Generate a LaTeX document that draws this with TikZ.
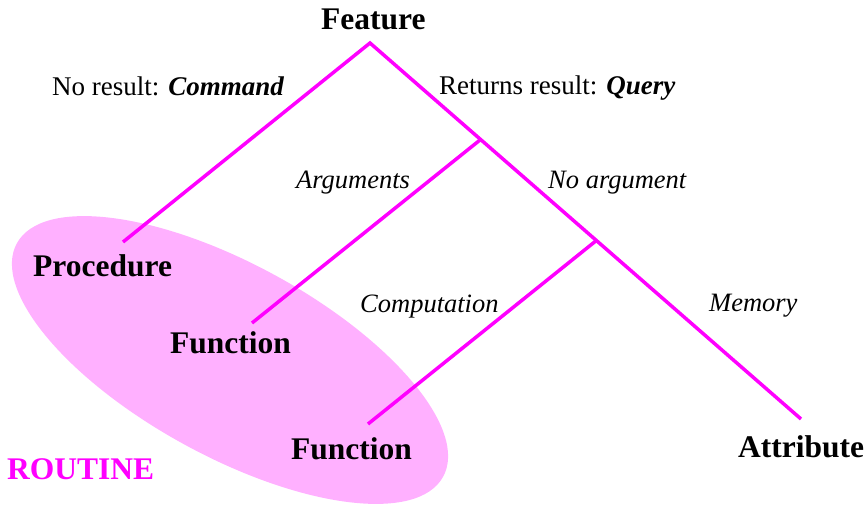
\documentclass[tikz,border=0pt]{standalone}
\usepackage{fontspec}
\setmainfont{Liberation Serif}
\definecolor{linemag}{RGB}{255,0,255}
\definecolor{ellfill}{RGB}{255,176,255}
\tikzset{
  branch/.style={draw=linemag, line width=3.5pt},
  term/.style={inner sep=0pt, anchor=base west, font=\fontsize{31.5}{34}\selectfont\bfseries},
  lbl/.style={inner sep=0pt, anchor=base west, font=\fontsize{27}{30}\selectfont},
  ilbl/.style={inner sep=0pt, anchor=base west, font=\fontsize{26.5}{30}\selectfont\itshape},
}
\begin{document}
\begin{tikzpicture}[x=1pt,y=-1pt]
\useasboundingbox (0,0) rectangle (868,504);
% routine ellipse
\fill[ellfill, rotate around={-28.7:(230,360)}] (230,360) ellipse [x radius=243, y radius=96];
% tree points
\coordinate (top) at (370,43);
\coordinate (b1) at (480,140);
\coordinate (b2) at (597,240);
\coordinate (procEnd) at (123,242);
\coordinate (fun1End) at (252,323);
\coordinate (fun2End) at (368,424);
\coordinate (attrEnd) at (801,419);
\draw[branch] (procEnd) -- (top) -- (attrEnd);
\draw[branch] (b1) -- (fun1End);
\draw[branch] (b2) -- (fun2End);
% terms
\node[term] (feature) at (321,29) {Feature};
\node[term] (procedure) at (33,276) {Procedure};
\node[term] (function1) at (170,353) {Function};
\node[term] (function2) at (291,459) {Function};
\node[term] (attribute) at (738,457) {Attribute};
\node[term, text=linemag] (routine) at (7,479) {ROUTINE};
% labels
\node[lbl] (cmd) at (52,95) {No result: \textbf{\textit{Command}}};
\node[lbl] (qry) at (439,94) {Returns result: \textbf{\textit{Query}}};
\node[ilbl] (args) at (296,188) {Arguments};
\node[ilbl] (noarg) at (548,188) {No argument};
\node[ilbl] (comp) at (360,312) {Computation};
\node[ilbl] (mem) at (709,311) {Memory};
\end{tikzpicture}
\end{document}
